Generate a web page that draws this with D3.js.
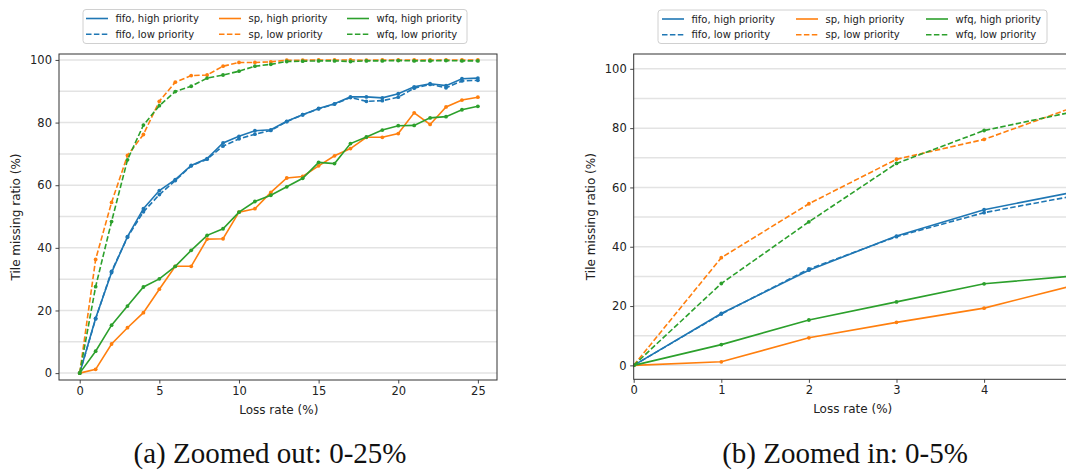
<!DOCTYPE html>
<html>
<head>
<meta charset="utf-8">
<script src="https://cdn.jsdelivr.net/npm/d3@7"></script>
<style>
  body { margin: 0; background: #fff; }
  svg { display: block; font-family: "DejaVu Sans", sans-serif; }
</style>
</head>
<body>
<div id="chart"></div>
<script>
// loss rate on x axis (%)
var loss = d3.range(0, 26);

// tile missing ratio (%) per scheduler / priority
var fifoHigh = [0, 17.5, 32.1, 43.6, 52.5, 58.3, 61.8, 66.3, 68.5, 73.5, 75.6, 77.4, 77.7, 80.4, 82.5, 84.5, 86.0, 88.2, 88.2, 87.9, 89.2, 91.4, 92.4, 91.8, 94.0, 94.2];
var fifoLow  = [0, 17.3, 32.5, 43.4, 51.5, 57.0, 61.5, 66.2, 68.3, 72.5, 74.8, 76.3, 77.5, 80.3, 82.5, 84.4, 85.9, 88.0, 86.8, 87.0, 88.1, 91.0, 92.2, 91.1, 93.3, 93.5];
var spHigh   = [0, 1.2, 9.3, 14.5, 19.3, 26.8, 34.1, 34.1, 42.8, 42.9, 51.4, 52.5, 57.7, 62.3, 62.8, 66.2, 69.4, 71.7, 75.3, 75.3, 76.5, 83.1, 79.4, 85.0, 87.2, 88.1];
var spLow    = [0, 36.3, 54.5, 69.5, 76.2, 86.8, 92.9, 95.0, 95.2, 98.0, 99.2, 99.2, 99.4, 99.9, 99.9, 100, 100, 100, 99.9, 100, 100, 100, 100, 100, 100, 100];
var wfqHigh  = [0, 7.0, 15.3, 21.4, 27.5, 30.1, 34.1, 39.2, 44.0, 46.1, 51.4, 54.8, 56.8, 59.5, 62.2, 67.3, 66.9, 73.3, 75.4, 77.6, 79.0, 79.1, 81.5, 81.9, 84.1, 85.2];
var wfqLow   = [0, 27.6, 48.4, 68.1, 79.2, 85.4, 89.9, 91.6, 94.2, 95.2, 96.4, 98.0, 98.6, 99.5, 99.6, 99.7, 99.7, 99.5, 99.7, 99.7, 99.8, 99.7, 99.7, 99.8, 99.7, 99.7];

var seriesNames = ["fifo, high priority", "fifo, low priority", "sp, high priority", "sp, low priority", "wfq, high priority", "wfq, low priority"];
var seriesValues = [fifoHigh, fifoLow, spHigh, spLow, wfqHigh, wfqLow];
var seriesColors = ["#1f77b4", "#1f77b4", "#ff7f0e", "#ff7f0e", "#2ca02c", "#2ca02c"];
var seriesDashed = [false, true, false, true, false, true];

var xTicksA = [0, 5, 10, 15, 20, 25];
var xTicksB = [0, 1, 2, 3, 4];
var yTicks = [0, 20, 40, 60, 80, 100];
var gridTicks = d3.range(0, 101, 10);

//Width and height
var w = 1066;
var h = 471;

var svg = d3.select("#chart")
  .append("svg")
  .attr("width", w)
  .attr("height", h);

var series = seriesNames.map(function(name, i) {
  return {
    name: name,
    color: seriesColors[i],
    dashed: seriesDashed[i],
    points: loss.map(function(x, j) { return [x, seriesValues[i][j]]; })
  };
});

function drawPanel(id, box, xDomain, yDomain, xTicks, legendBox, legendCols, caption, captionX) {
  var xScale = d3.scaleLinear().domain(xDomain).range([box.left, box.right]);
  var yScale = d3.scaleLinear().domain(yDomain).range([box.bottom, box.top]);

  var g = svg.append("g");

  g.append("clipPath")
    .attr("id", "clip-" + id)
    .append("rect")
    .attr("x", box.left)
    .attr("y", box.top)
    .attr("width", box.right - box.left)
    .attr("height", box.bottom - box.top);

  // grid
  g.append("g")
    .selectAll("line")
    .data(gridTicks)
    .enter()
    .append("line")
    .attr("x1", box.left)
    .attr("x2", box.right)
    .attr("y1", function(d) { return yScale(d); })
    .attr("y2", function(d) { return yScale(d); })
    .attr("stroke", "#e3e3e3")
    .attr("stroke-width", 1.5);

  var line = d3.line()
    .x(function(d) { return xScale(d[0]); })
    .y(function(d) { return yScale(d[1]); });

  var plot = g.append("g").attr("clip-path", "url(#clip-" + id + ")");

  series.forEach(function(s) {
    plot.append("path")
      .datum(s.points)
      .attr("d", line)
      .attr("fill", "none")
      .attr("stroke", s.color)
      .attr("stroke-width", 1.6)
      .attr("stroke-dasharray", s.dashed ? "5.5,2.4" : null);

    plot.selectAll(null)
      .data(s.points)
      .enter()
      .append("circle")
      .attr("cx", function(d) { return xScale(d[0]); })
      .attr("cy", function(d) { return yScale(d[1]); })
      .attr("r", 1.9)
      .attr("fill", s.color);
  });

  // axes
  var xAxis = d3.axisBottom(xScale).tickValues(xTicks).tickFormat(d3.format("d")).tickSize(3.5).tickPadding(3.5);
  var yAxis = d3.axisLeft(yScale).tickValues(yTicks).tickFormat(d3.format("d")).tickSize(3.5).tickPadding(3.5);

  var gx = g.append("g")
    .attr("transform", "translate(0," + box.bottom + ")")
    .call(xAxis);
  var gy = g.append("g")
    .attr("transform", "translate(" + box.left + ",0)")
    .call(yAxis);

  [gx, gy].forEach(function(a) {
    a.select(".domain").remove();
    a.selectAll("line").attr("stroke", "#333").attr("stroke-width", 0.9);
    a.selectAll("text")
      .attr("fill", "#222")
      .style("font-size", "11.5px")
      .style("font-family", "DejaVu Sans");
  });

  // frame
  g.append("rect")
    .attr("x", box.left)
    .attr("y", box.top)
    .attr("width", box.right - box.left)
    .attr("height", box.bottom - box.top)
    .attr("fill", "none")
    .attr("stroke", "#333")
    .attr("stroke-width", 1);

  g.append("text")
    .attr("text-anchor", "middle")
    .attr("x", xScale((xDomain[0] + xDomain[1]) / 2 > 10 ? 12.5 : 2.5))
    .attr("y", box.bottom + 34)
    .style("font-size", "12px")
    .attr("fill", "#222")
    .text("Loss rate (%)");

  g.append("text")
    .attr("text-anchor", "middle")
    .attr("transform", "translate(" + (box.left - 39) + "," + ((box.top + box.bottom) / 2) + ")rotate(-90)")
    .style("font-size", "12px")
    .attr("fill", "#222")
    .text("Tile missing ratio (%)");

  // legend
  var leg = g.append("g");
  leg.append("rect")
    .attr("x", legendBox.x)
    .attr("y", legendBox.y)
    .attr("width", legendBox.w)
    .attr("height", legendBox.h)
    .attr("rx", 3)
    .attr("fill", "#fff")
    .attr("stroke", "#d0d0d0")
    .attr("stroke-width", 1);

  series.forEach(function(s, i) {
    var col = Math.floor(i / 2);
    var row = i % 2;
    var lx = legendCols[col];
    var ly = legendBox.y + 9 + row * 15.7;
    leg.append("line")
      .attr("x1", lx)
      .attr("x2", lx + 22)
      .attr("y1", ly)
      .attr("y2", ly)
      .attr("stroke", s.color)
      .attr("stroke-width", 1.6)
      .attr("stroke-dasharray", s.dashed ? "5.5,2.4" : null);
    leg.append("text")
      .attr("x", lx + 29.5)
      .attr("y", ly + 3.6)
      .style("font-size", "10px")
      .attr("fill", "#222")
      .text(s.name);
  });

  // caption
  svg.append("text")
    .attr("text-anchor", "middle")
    .attr("x", captionX)
    .attr("y", 463)
    .style("font-family", "Liberation Serif, serif")
    .style("font-size", "29px")
    .attr("fill", "#111")
    .text(caption);
}

drawPanel("a",
  { left: 59, right: 497, top: 54, bottom: 380 },
  [-1.3, 26.2], [-2.2, 101.9], xTicksA,
  { x: 83, y: 9.5, w: 384, h: 34 }, [86, 219, 347],
  "(a) Zoomed out: 0-25%", 270);

drawPanel("b",
  { left: 633.7, right: 1071.7, top: 54, bottom: 379.3 },
  [0, 5], [-4.7, 105], xTicksB,
  { x: 658, y: 10, w: 389, h: 33.5 }, [662, 796, 926],
  "(b) Zoomed in: 0-5%", 845);
</script>
</body>
</html>
